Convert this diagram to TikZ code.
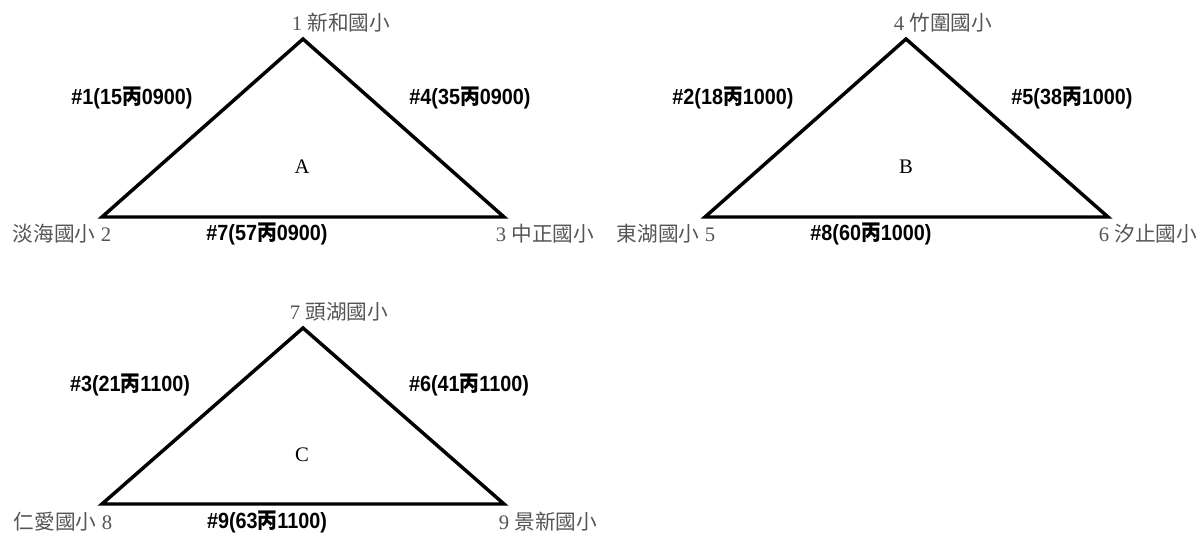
\documentclass[tikz,border=0pt]{standalone}
\usepackage{fontspec}
\setmainfont{Liberation Serif}
\newfontfamily\cjk{Noto Sans CJK TC}
\newfontfamily\cjkn[FakeStretch=0.9]{Noto Sans CJK TC}
\newfontfamily\lblfont[FakeStretch=0.9]{Liberation Sans}
\definecolor{labgray}{RGB}{85,85,85}
\tikzset{
  tri/.style={line width=2.6pt, line join=miter},
  vlab/.style={text=labgray, font=\fontsize{15.5}{18}\selectfont, inner sep=0pt},
  elab/.style={font=\lblfont\bfseries\fontsize{16.5}{19}\selectfont, inner sep=0pt},
  letter/.style={font=\fontsize{15.5}{18}\selectfont, inner sep=0pt}
}
\newcommand{\ch}[1]{{\cjk #1}}
\newcommand{\chb}[1]{{\cjkn\bfseries #1}}
\begin{document}
\begin{tikzpicture}[x=0.75pt,y=-0.75pt]
\useasboundingbox (0,0) rectangle (1198,534);
% triangle A
\coordinate (a1) at (303,39);
\coordinate (a2) at (102,217);
\coordinate (a3) at (504,217);
\draw[tri] (a1) -- (a2) -- (a3) -- cycle;
\node[vlab] (la1) at (341,23) {1 \ch{新和國小}};
\node[vlab] (la2) at (62,234) {\ch{淡海國小} 2};
\node[vlab] (la3) at (545,234) {3 \ch{中正國小}};
\node[elab] (ea1) at (132,98) {\#1(15\chb{丙}0900)};
\node[elab] (ea2) at (470,98) {\#4(35\chb{丙}0900)};
\node[elab] (ea3) at (267,234) {\#7(57\chb{丙}0900)};
\node[letter] (ta) at (302,167) {A};
% triangle B
\coordinate (b1) at (906,39);
\coordinate (b2) at (705,217);
\coordinate (b3) at (1108,217);
\draw[tri] (b1) -- (b2) -- (b3) -- cycle;
\node[vlab] (lb1) at (943,23) {4 \ch{竹圍國小}};
\node[vlab] (lb2) at (666,234) {\ch{東湖國小} 5};
\node[vlab] (lb3) at (1148,234) {6 \ch{汐止國小}};
\node[elab] (eb1) at (733,98) {\#2(18\chb{丙}1000)};
\node[elab] (eb2) at (1072,98) {\#5(38\chb{丙}1000)};
\node[elab] (eb3) at (871,234) {\#8(60\chb{丙}1000)};
\node[letter] (tb) at (906,167) {B};
% triangle C
\coordinate (c1) at (303,328);
\coordinate (c2) at (102,504);
\coordinate (c3) at (504,504);
\draw[tri] (c1) -- (c2) -- (c3) -- cycle;
\node[vlab] (lc1) at (339,312) {7 \ch{頭湖國小}};
\node[vlab] (lc2) at (63,522) {\ch{仁愛國小} 8};
\node[vlab] (lc3) at (548,522) {9 \ch{景新國小}};
\node[elab] (ec1) at (130,385) {\#3(21\chb{丙}1100)};
\node[elab] (ec2) at (469,385) {\#6(41\chb{丙}1100)};
\node[elab] (ec3) at (267,522) {\#9(63\chb{丙}1100)};
\node[letter] (tc) at (302,455) {C};
\end{tikzpicture}
\end{document}
